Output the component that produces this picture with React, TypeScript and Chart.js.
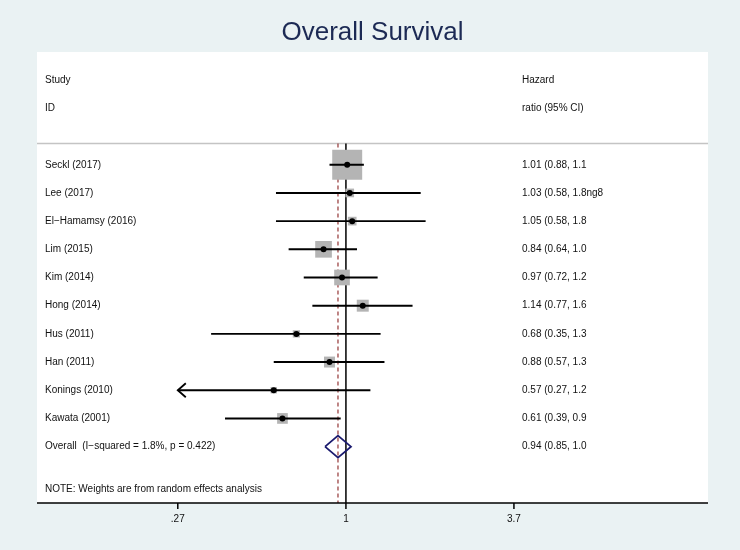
import React, { useEffect, useRef } from "react";
import { Chart, registerables } from "chart.js";

Chart.register(...registerables);

// ---- data ----
const studies = [
  "Seckl (2017)",
  "Lee (2017)",
  "El\u2212Hamamsy (2016)",
  "Lim (2015)",
  "Kim (2014)",
  "Hong (2014)",
  "Hus (2011)",
  "Han (2011)",
  "Konings (2010)",
  "Kawata (2001)",
];
const hr = [1.01, 1.03, 1.05, 0.84, 0.97, 1.14, 0.68, 0.88, 0.57, 0.61];
const lower = [0.88, 0.58, 0.58, 0.64, 0.72, 0.77, 0.35, 0.57, 0.26, 0.39];
const upper = [1.15, 1.79, 1.86, 1.09, 1.28, 1.68, 1.31, 1.35, 1.21, 0.96];
const weights = [44.0, 3.7, 3.7, 13.6, 12.0, 7.0, 2.6, 5.9, 2.0, 5.6];
const hrLabels = [
  "1.01 (0.88, 1.1",
  "1.03 (0.58, 1.8ng8",
  "1.05 (0.58, 1.8",
  "0.84 (0.64, 1.0",
  "0.97 (0.72, 1.2",
  "1.14 (0.77, 1.6",
  "0.68 (0.35, 1.3",
  "0.88 (0.57, 1.3",
  "0.57 (0.27, 1.2",
  "0.61 (0.39, 0.9",
];
const overallEst = 0.94;
const overallLo = 0.85;
const overallHi = 1.04;
const overallLabel = "Overall  (I\u2212squared = 1.8%, p = 0.422)";
const overallText = "0.94 (0.85, 1.0";
const noteText = "NOTE: Weights are from random effects analysis";
const tickValues = [0.27, 1, 3.7];
const tickLabels = [".27", "1", "3.7"];
const headerLeft = ["Study", "ID"];
const headerRight = ["Hazard", "ratio (95% CI)"];
const titleText = "Overall Survival";

const FONT = '"Liberation Sans", Arial, Helvetica, sans-serif';
const clipMin = tickValues[0];
const clipMax = tickValues[tickValues.length - 1];

export default function App() {
  const ref = useRef<HTMLCanvasElement | null>(null);

  useEffect(() => {
    const canvas = ref.current;
    if (!canvas) return;

    const rows = studies.map((_, i) => i);
    const overallRow = studies.length;
    const sepRow = -0.75;

    const ciDatasets = rows.map((i) => ({
      data: [
        { x: Math.max(lower[i], clipMin), y: i },
        { x: Math.min(upper[i], clipMax), y: i },
      ],
      showLine: true,
      borderColor: "#000",
      borderWidth: 1.9,
      pointRadius: 0,
      order: 2,
    }));

    const datasets: any[] = [
      {
        data: [
          { x: 1, y: sepRow },
          { x: 1, y: 12 },
        ],
        showLine: true,
        borderColor: "#000",
        borderWidth: 1.5,
        pointRadius: 0,
        order: 10,
      },
      {
        data: [
          { x: overallEst, y: sepRow },
          { x: overallEst, y: 12 },
        ],
        showLine: true,
        borderColor: "#8b2323",
        borderWidth: 1.1,
        borderDash: [4, 3],
        pointRadius: 0,
        order: 9,
      },
      {
        data: rows.map((i) => ({ x: hr[i], y: i })),
        pointStyle: "rect",
        pointRadius: rows.map((i) => (4.52 * Math.sqrt(weights[i])) / Math.SQRT2),
        backgroundColor: "#b4b4b4",
        borderWidth: 0,
        order: 3,
      },
      ...ciDatasets,
      {
        data: rows.map((i) => ({ x: hr[i], y: i })),
        pointStyle: "circle",
        pointRadius: 3,
        backgroundColor: "#000",
        borderWidth: 0,
        order: 1,
      },
      {
        data: [
          { x: overallLo, y: overallRow },
          { x: overallEst, y: overallRow - 0.39 },
          { x: overallHi, y: overallRow },
          { x: overallEst, y: overallRow + 0.39 },
          { x: overallLo, y: overallRow },
        ],
        showLine: true,
        borderColor: "#1a1a6e",
        borderWidth: 1.8,
        pointRadius: 0,
        order: 0,
      },
    ];

    const deco = {
      id: "forestDeco",
      beforeDraw(chart: any) {
        const { ctx, chartArea: a } = chart;
        ctx.save();
        ctx.fillStyle = "#eaf2f3";
        ctx.fillRect(0, 0, chart.width, chart.height);
        ctx.fillStyle = "#ffffff";
        ctx.fillRect(a.left, a.top, a.right - a.left, a.bottom - a.top);
        const ys = chart.scales.y;
        const yy = ys.getPixelForValue(sepRow);
        ctx.strokeStyle = "#c4c4c4";
        ctx.lineWidth = 1.5;
        ctx.beginPath();
        ctx.moveTo(a.left, yy);
        ctx.lineTo(a.right, yy);
        ctx.stroke();
        ctx.restore();
      },
      afterDraw(chart: any) {
        const { ctx, chartArea: a } = chart;
        const xs = chart.scales.x;
        const ys = chart.scales.y;
        ctx.save();
        // arrows for clipped CIs
        ctx.strokeStyle = "#000";
        ctx.lineWidth = 1.8;
        rows.forEach((i) => {
          const y = ys.getPixelForValue(i);
          if (lower[i] < clipMin) {
            const x = xs.getPixelForValue(clipMin);
            ctx.beginPath();
            ctx.moveTo(x + 8, y - 7);
            ctx.lineTo(x, y);
            ctx.lineTo(x + 8, y + 7);
            ctx.stroke();
          }
          if (upper[i] > clipMax) {
            const x = xs.getPixelForValue(clipMax);
            ctx.beginPath();
            ctx.moveTo(x - 8, y - 7);
            ctx.lineTo(x, y);
            ctx.lineTo(x - 8, y + 7);
            ctx.stroke();
          }
        });

        // texts
        const textLeft = a.left + 8;
        const textRight = a.left + 485;
        ctx.fillStyle = "#111";
        ctx.font = `10px ${FONT}`;
        ctx.textBaseline = "middle";
        ctx.textAlign = "left";
        headerLeft.forEach((t, k) => ctx.fillText(t, textLeft, ys.getPixelForValue(-3 + k)));
        headerRight.forEach((t, k) => ctx.fillText(t, textRight, ys.getPixelForValue(-3 + k)));
        rows.forEach((i) => {
          const y = ys.getPixelForValue(i);
          ctx.fillText(studies[i], textLeft, y);
          ctx.fillText(hrLabels[i], textRight, y);
        });
        ctx.fillText(overallLabel, textLeft, ys.getPixelForValue(overallRow));
        ctx.fillText(overallText, textRight, ys.getPixelForValue(overallRow));
        ctx.fillText(noteText, textLeft, ys.getPixelForValue(11.5));

        // x axis
        ctx.strokeStyle = "#000";
        ctx.lineWidth = 1.5;
        ctx.beginPath();
        ctx.moveTo(a.left, a.bottom);
        ctx.lineTo(a.right, a.bottom);
        ctx.stroke();
        ctx.textAlign = "center";
        ctx.textBaseline = "middle";
        tickValues.forEach((v, k) => {
          const x = xs.getPixelForValue(v);
          ctx.beginPath();
          ctx.moveTo(x, a.bottom);
          ctx.lineTo(x, a.bottom + 6);
          ctx.stroke();
          ctx.fillText(tickLabels[k], x, a.bottom + 16);
        });

        // title
        ctx.fillStyle = "#1c2a54";
        ctx.font = `26px ${FONT}`;
        ctx.textAlign = "center";
        ctx.fillText(titleText, (a.left + a.right) / 2, 33);
        ctx.restore();
      },
    };

    const chart = new Chart(canvas, {
      type: "scatter",
      data: { datasets },
      options: {
        animation: false,
        responsive: false,
        maintainAspectRatio: false,
        events: [],
        layout: { padding: { left: 37, right: 32, top: 52, bottom: 47 } },
        scales: {
          x: { type: "logarithmic", min: 0.0902, max: 16.77, bounds: "data", display: false },
          y: { type: "linear", min: -4, max: 12, reverse: true, display: false },
        },
        plugins: {
          legend: { display: false },
          tooltip: { enabled: false },
          title: { display: false },
        },
      } as any,
      plugins: [deco],
    });

    return () => chart.destroy();
  }, []);

  return (
    <div style={{ position: "absolute", left: 0, top: 0, width: 740, height: 550 }}>
      <canvas ref={ref} width={740} height={550} style={{ width: 740, height: 550, display: "block" }} />
    </div>
  );
}
